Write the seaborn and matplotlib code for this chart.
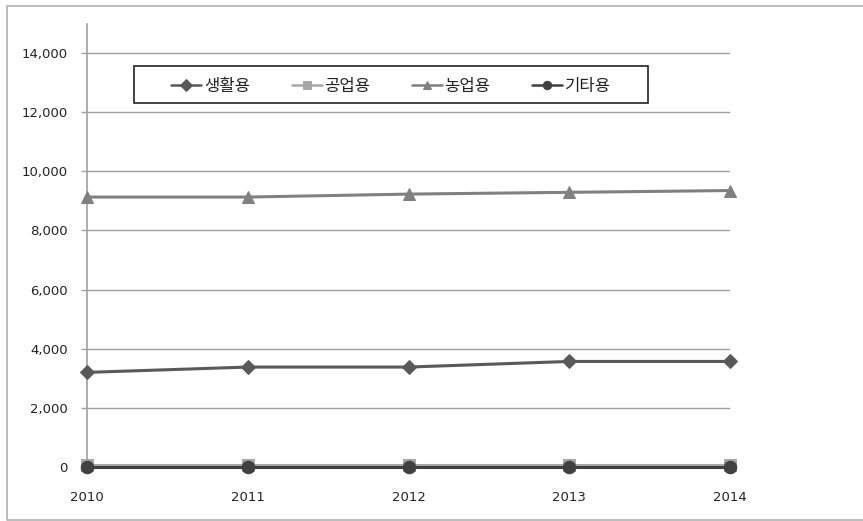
import pandas
import seaborn
import matplotlib.pyplot as plt
from matplotlib.patches import Rectangle
from matplotlib.lines import Line2D
from matplotlib.ticker import FuncFormatter

years = [2010, 2011, 2012, 2013, 2014]
series_names = ['생활용', '공업용', '농업용', '기타용']
living = [3200, 3380, 3380, 3570, 3570]
industrial = [60, 60, 60, 60, 60]
agricultural = [9130, 9130, 9230, 9290, 9350]
other = [10, 10, 10, 10, 10]

df = pandas.DataFrame({
    'year': years * 4,
    'usage': [n for n in series_names for _ in years],
    'value': living + industrial + agricultural + other,
})

seaborn.set_theme(style="white")
plt.rcParams['font.family'] = ['Noto Sans CJK KR', 'DejaVu Sans']

colors = {'생활용': '#595959', '공업용': '#a6a6a6', '농업용': '#808080', '기타용': '#404040'}
markers = {'생활용': 'D', '공업용': 's', '농업용': '^', '기타용': 'o'}
sizes = {'생활용': 7, '공업용': 8, '농업용': 9, '기타용': 9}

fig = plt.figure(figsize=(8.63, 5.21), dpi=100)
ax = fig.add_axes([87 / 863, 1 - 467 / 521, (730 - 87) / 863, (467 - 23.5) / 521])

for name in series_names:
    seaborn.lineplot(data=df[df['usage'] == name], x='year', y='value', ax=ax,
                     color=colors[name], marker=markers[name], markersize=sizes[name],
                     markeredgecolor=colors[name], linewidth=2.2, label=name,
                     clip_on=False, zorder=3)

ax.set_xlim(2010, 2014)
ax.set_ylim(0, 15000)
ax.set_yticks(range(0, 15000, 2000))
ax.set_xticks(years)
ax.yaxis.set_major_formatter(FuncFormatter(lambda v, p: f'{int(v):,}'))
ax.grid(axis='y', color='#a0a0a0', linewidth=1)
ax.set_axisbelow(True)
ax.set_xlabel('')
ax.set_ylabel('')

for side in ['top', 'right', 'bottom']:
    ax.spines[side].set_visible(False)
ax.spines['left'].set_color('#a0a0a0')
ax.spines['left'].set_linewidth(1.2)

ax.tick_params(axis='y', length=4, color='#a0a0a0', width=1, pad=10, labelsize=9.5,
               labelcolor='#222222', left=True)
ax.tick_params(axis='x', length=0, pad=17, labelsize=9.5, labelcolor='#222222')
for lbl in ax.get_xticklabels() + ax.get_yticklabels():
    lbl.set_family(['DejaVu Sans'])

leg = ax.legend(ncol=4, loc='center left', bbox_to_anchor=(163 / 863, 1 - 86 / 521),
                bbox_transform=fig.transFigure, frameon=False, fontsize=12,
                handlelength=1.8, columnspacing=2.5, handletextpad=0.15, borderpad=0)
for h in leg.legend_handles:
    h.set_markersize(6)
    h.set_linewidth(1.8)
for t in leg.get_texts():
    t.set_color('#222222')

# legend box
fig.patches.append(Rectangle((134 / 863, 1 - 103 / 521), 514 / 863, 37 / 521,
                             transform=fig.transFigure, fill=False,
                             edgecolor='#222222', linewidth=1.2, zorder=5))

# outer chart frame: top, left and bottom edges only
frame_x = [1.0, 7 / 863, 7 / 863, 1.0]
frame_y = [1 - 6 / 521, 1 - 6 / 521, 1 - 520 / 521, 1 - 520 / 521]
fig.lines.append(Line2D(frame_x, frame_y, transform=fig.transFigure,
                        color='#b0b0b0', linewidth=1.2))

fig.savefig('out.png', dpi=100)
